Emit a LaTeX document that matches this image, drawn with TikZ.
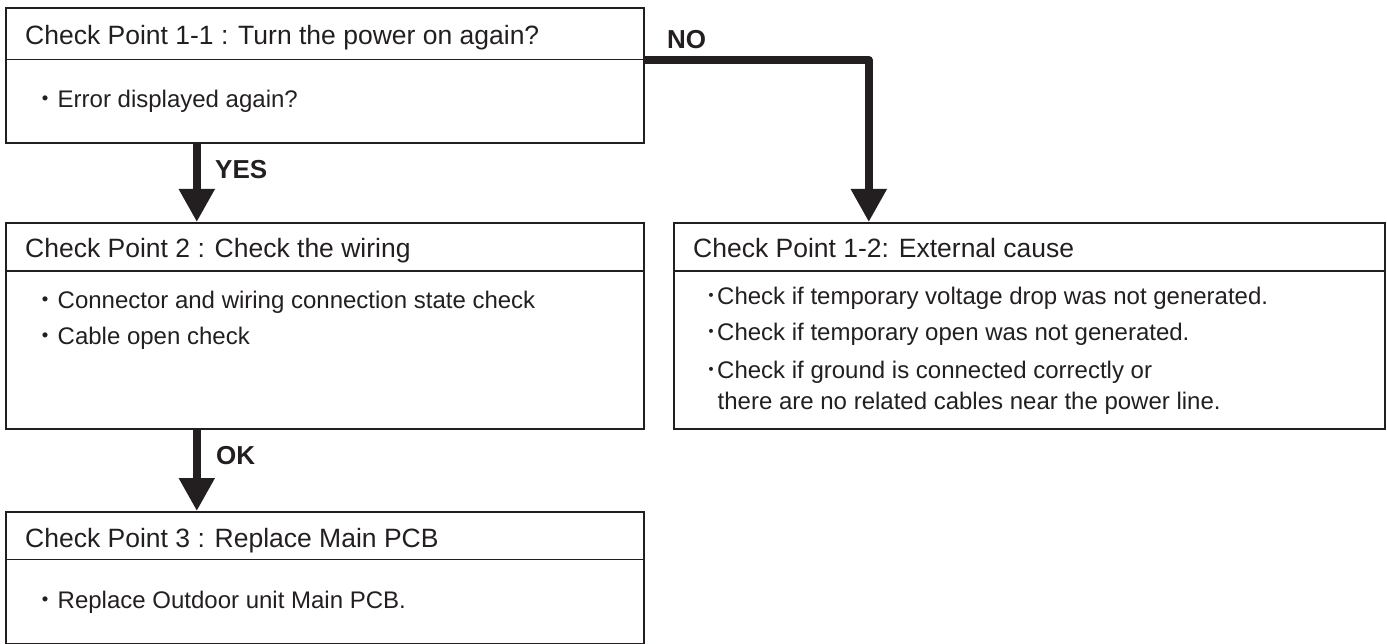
\documentclass[tikz,border=0pt]{standalone}
\usepackage{fontspec}
\setmainfont{Liberation Sans}
\newfontfamily\cjk{Noto Sans CJK JP}
\usetikzlibrary{arrows.meta}
\definecolor{ink}{RGB}{35,31,32}
\newcommand\bul{{\cjk ・}}
\newcommand\bulR{{\cjk ･}}
\begin{document}
\begin{tikzpicture}[x=1pt,y=-1pt,
  box/.style={draw=ink, line width=1.6pt, inner sep=0pt, anchor=north west},
  hdr/.style={anchor=base west, inner sep=0pt, text=ink, font=\fontsize{26.5}{30}\selectfont},
  itm/.style={anchor=base west, inner sep=0pt, text=ink, font=\fontsize{24}{31}\selectfont},
  lbl/.style={anchor=base west, inner sep=0pt, text=ink, font=\fontsize{26}{30}\selectfont\bfseries},
  flow/.style={draw=ink, line width=8pt, -{Triangle[length=33pt,width=34pt]}, line join=round},
  rule/.style={draw=ink, line width=1.6pt}]
\useasboundingbox (0,0) rectangle (1387,644);
% boxes
\node[box, minimum width=638pt, minimum height=135pt] (b1) at (5,7) {};
\node[box, minimum width=638pt, minimum height=206pt] (b2) at (5,222) {};
\node[box, minimum width=638pt, minimum height=131.5pt] (b3) at (5,511) {};
\node[box, minimum width=711pt, minimum height=206pt] (b4) at (673,222) {};
% dividers
\draw[rule] (5,59.5) -- (643,59.5);
\draw[rule] (5,271) -- (643,271);
\draw[rule] (5,559.5) -- (643,559.5);
\draw[rule] (673,271) -- (1384,271);
% texts
\node[hdr] (h1) at (25,44.3) {Check Point 1-1 : Turn the power on again?};
\node[itm] (i11) at (33.5,107.3) {\bul Error displayed again?};
\node[hdr] (h2) at (25,257.5) {Check Point 2 : Check the wiring};
\node[itm] (i21) at (33.5,308.3) {\bul Connector and wiring connection state check};
\node[itm] (i22) at (33.5,344.3) {\bul Cable open check};
\node[hdr] (h3) at (25,547.5) {Check Point 3 : Replace Main PCB};
\node[itm] (i31) at (33.5,608) {\bul Replace Outdoor unit Main PCB.};
\node[hdr] (h4) at (693,257.7) {Check Point 1-2: External cause};
\node[itm] (i41) at (705,304.3) {\bulR Check if temporary voltage drop was not generated.};
\node[itm] (i42) at (705,340.3) {\bulR Check if temporary open was not generated.};
\node[itm] (i43) at (705,378.3) {\bulR Check if ground is connected correctly or};
\node[itm] (i44) at (717.5,409) {there are no related cables near the power line.};
% connectors
\draw[flow] ([xshift=-128pt]b1.south) -- ([xshift=-128pt]b2.north);
\draw[flow] ([xshift=-128pt]b2.south) -- ([xshift=-128pt]b3.north);
\draw[flow] ([yshift=-53pt]b1.north east) -| ([xshift=-160.5pt]b4.north);
% labels
\node[lbl] (yes) at (215,178.6) {YES};
\node[lbl] (ok) at (216,464) {OK};
\node[lbl] (no) at (667,49) {NO};
\end{tikzpicture}
\end{document}
